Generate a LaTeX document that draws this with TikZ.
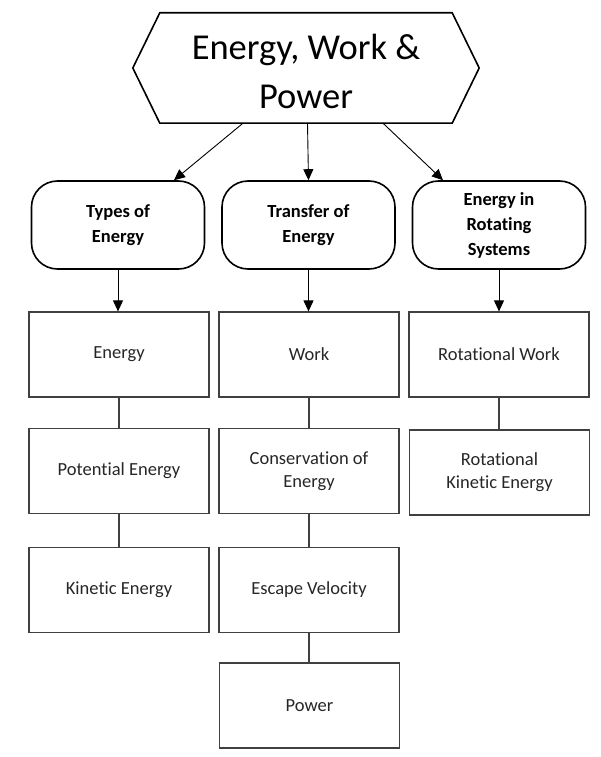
\documentclass[tikz,border=0pt]{standalone}
\usepackage{fontspec}
\setmainfont{Carlito}[RawFeature=-liga]
\usetikzlibrary{arrows.meta,calc}
\definecolor{boxgray}{HTML}{404040}
\definecolor{txtgray}{HTML}{262626}
\begin{document}
\begin{tikzpicture}[x=1pt,y=-1pt,
  hexbox/.style={minimum width=292pt,minimum height=110pt,inner sep=0pt,align=center,
    font=\fontsize{36.5}{49}\selectfont},
  roundbox/.style={draw=black,line width=1.6pt,rounded corners=26pt,minimum width=173pt,
    minimum height=88pt,align=center,inner sep=0pt,font=\bfseries\fontsize{18.5}{25}\selectfont},
  rectbox/.style={draw=boxgray,line width=1.2pt,minimum width=180pt,minimum height=85pt,
    align=center,inner sep=0pt,text=txtgray,font=\fontsize{18.5}{23}\selectfont},
  arr/.style={draw=black,line width=0.9pt,-{Triangle[length=11pt,width=10pt]}},
  link/.style={draw=boxgray,line width=1.2pt}]
\useasboundingbox (0,0) rectangle (601,757);
% title hexagon
\node[hexbox] (hex) at (306,68) {};
\node[font=\fontsize{36.5}{49}\selectfont,align=center,inner sep=0pt] (title) at (306,71) {Energy, Work \&\\Power};
\draw[line width=1.6pt,line join=miter] (hex.north west) -- (hex.north east) -- ($(hex.east)+(27,0)$)
  -- (hex.south east) -- (hex.south west) -- ($(hex.west)+(-27,0)$) -- cycle;
% category boxes
\node[roundbox] (c1) at (118,225) {Types of\\Energy};
\node[roundbox] (c2) at (308.5,225) {Transfer of\\Energy};
\node[roundbox] (c3) at (499,225) {Energy in\\Rotating\\Systems};
\coordinate (h1) at ($(hex.south)+(-63,0)$);
\coordinate (h2) at ($(hex.south)+(1.5,0)$);
\coordinate (h3) at ($(hex.south)+(77,0)$);
\draw[arr] (h1) -- ($(c1.north)+(56,0)$);
\draw[arr] (h2) -- (c2.north);
\draw[arr] (h3) -- ($(c3.north)+(-56,0)$);
% column 1
\node[rectbox] (a1) at (119,354.5) {Energy};
\node[rectbox] (a2) at (119,471) {Potential Energy};
\node[rectbox] (a3) at (119,590) {Kinetic Energy};
% column 2
\node[rectbox] (b1) at (309,354.5) {Work};
\node[rectbox] (b2) at (309,471) {Conservation of\\Energy};
\node[rectbox] (b3) at (309,590) {Escape Velocity};
\node[rectbox] (b4) at (309.5,705.5) {Power};
% column 3
\node[rectbox] (d1) at (499,354.5) {Rotational Work};
\node[rectbox] (d2) at (499.5,472.5) {Rotational\\Kinetic Energy};
% arrows into columns
\draw[arr] (c1.south) -- (c1.south |- a1.north);
\draw[arr] (c2.south) -- (c2.south |- b1.north);
\draw[arr] (c3.south) -- (c3.south |- d1.north);
% links
\draw[link] (a1.south) -- (a1.south |- a2.north);
\draw[link] (a2.south) -- (a2.south |- a3.north);
\draw[link] (b1.south) -- (b1.south |- b2.north);
\draw[link] (b2.south) -- (b2.south |- b3.north);
\draw[link] (b3.south) -- (b3.south |- b4.north);
\draw[link] (d1.south) -- (d1.south |- d2.north);
\end{tikzpicture}
\end{document}
